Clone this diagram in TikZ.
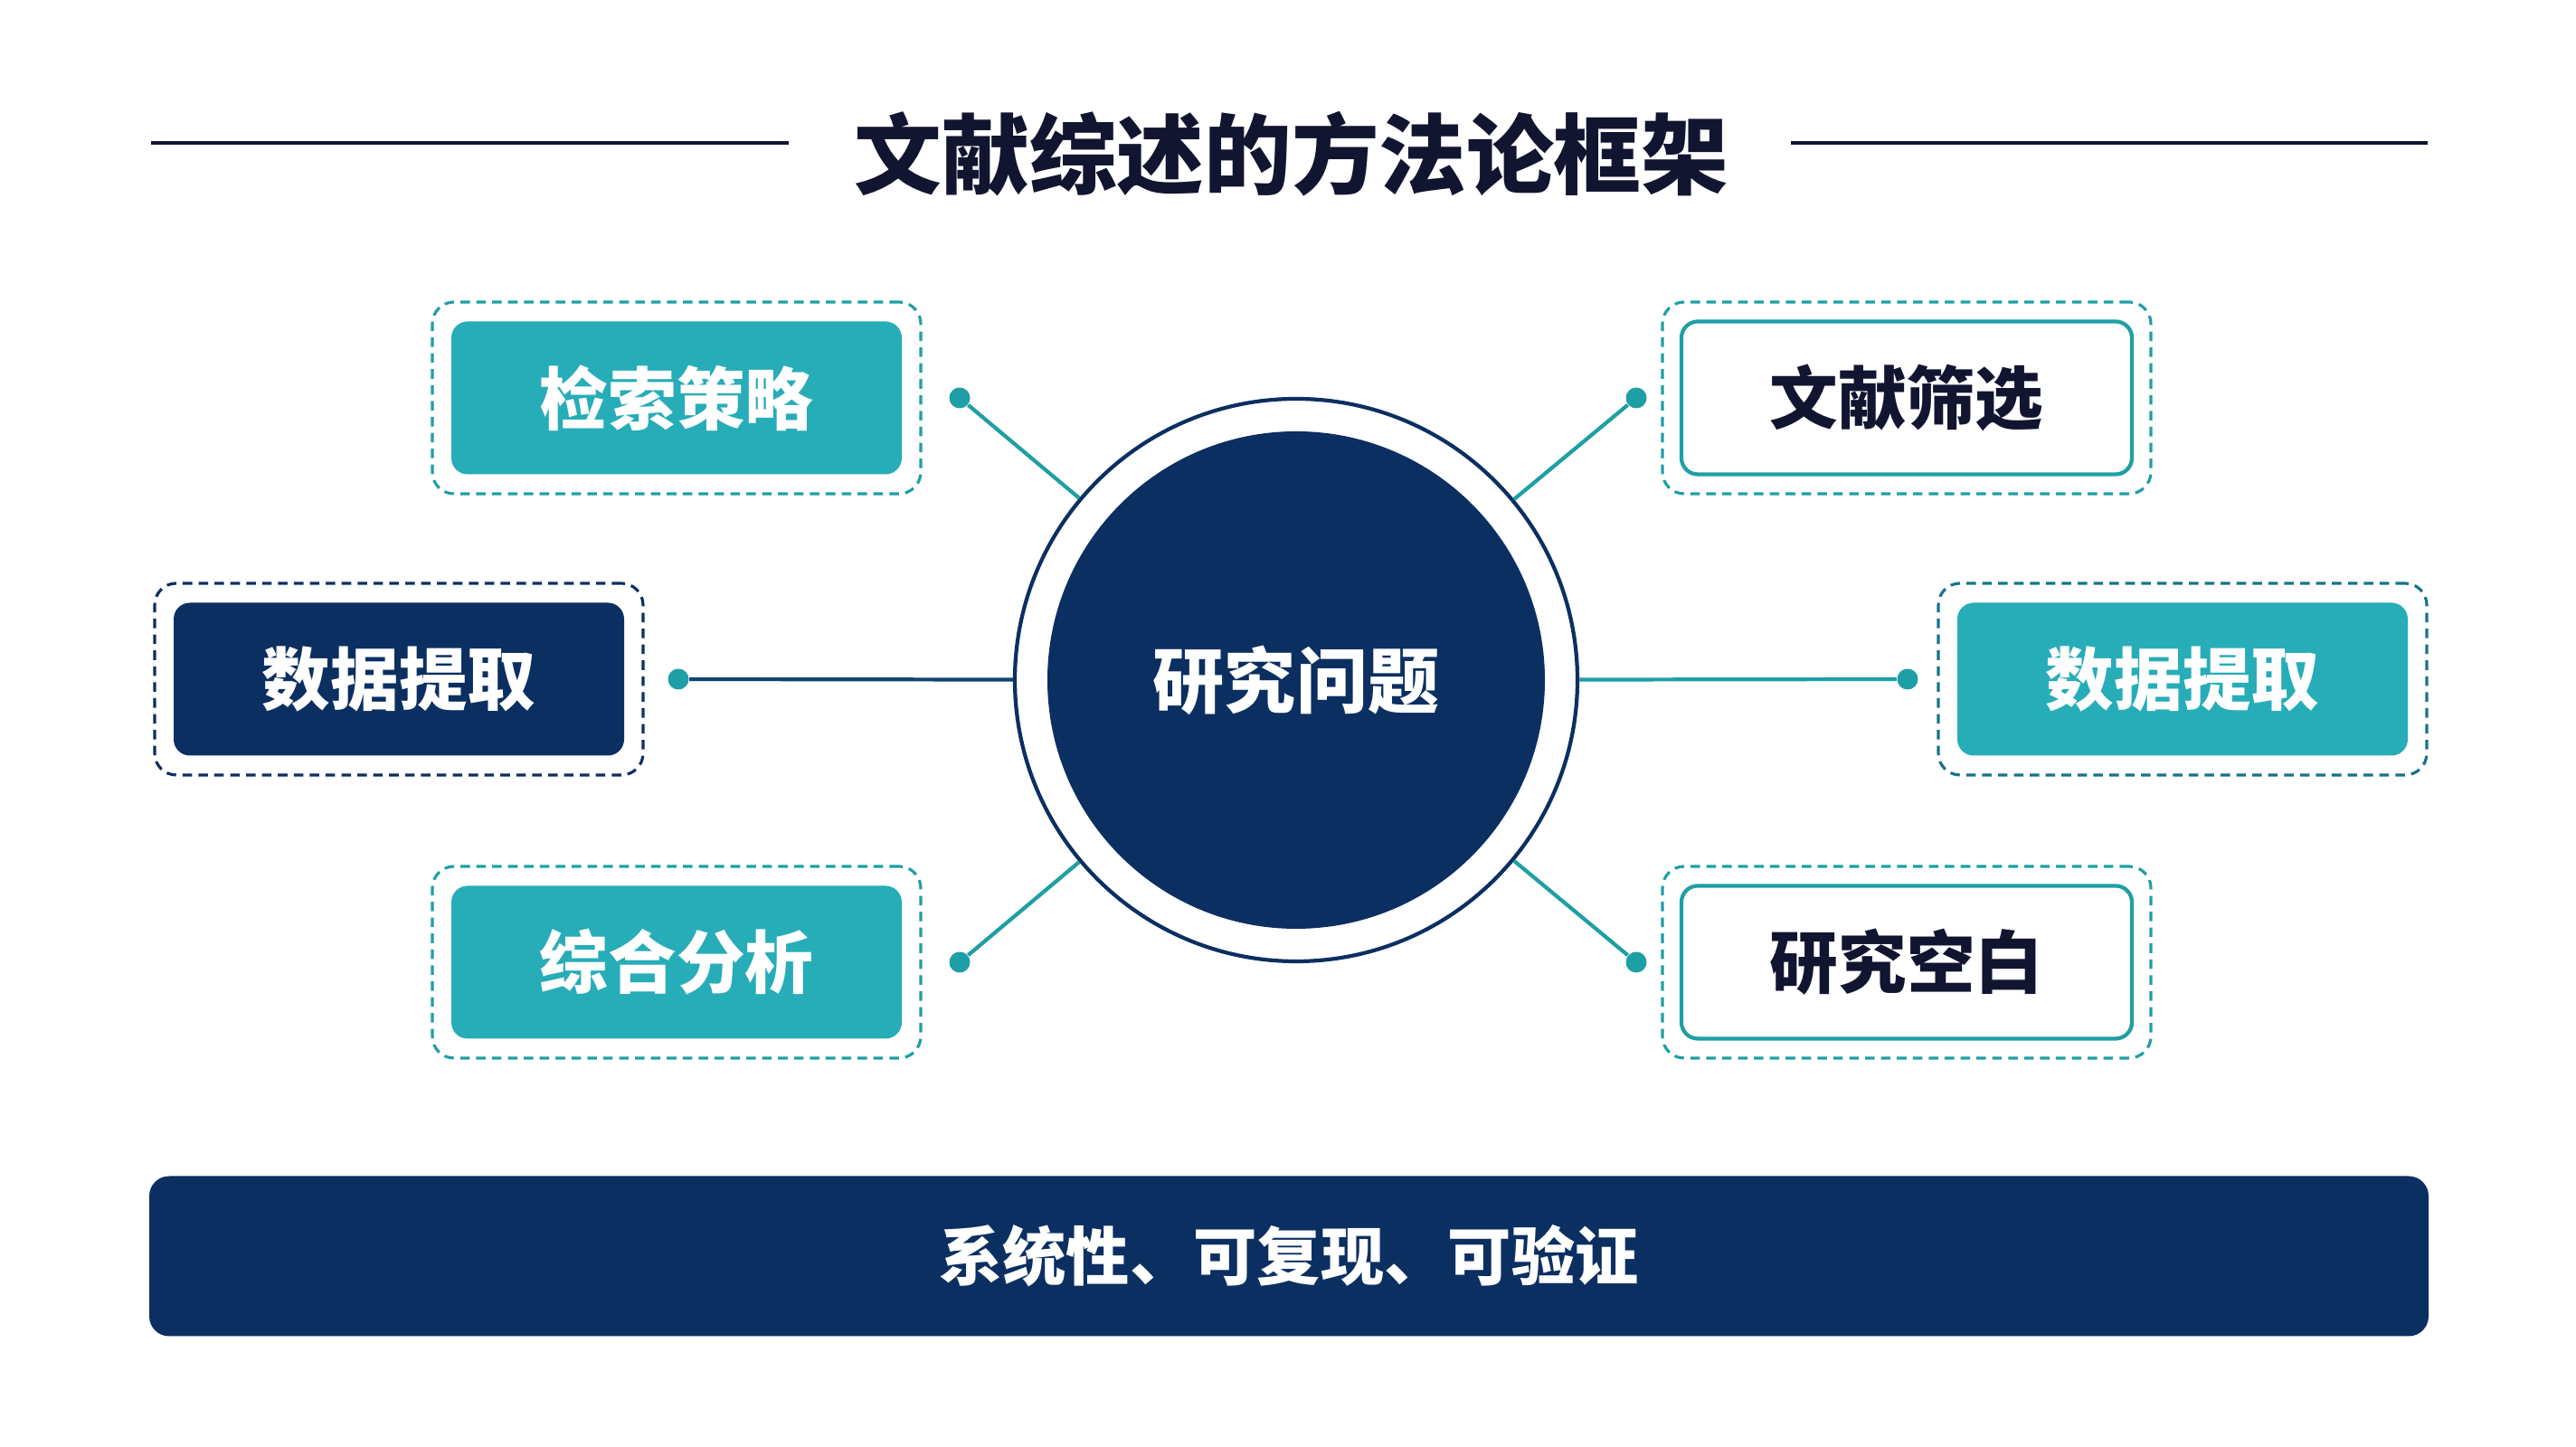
\documentclass[tikz,border=0pt]{standalone}
\usepackage{fontspec}
\usepackage{tikz}
\newfontfamily\cjk{Noto Sans CJK SC}

\definecolor{navy}{HTML}{0C2F62}
\definecolor{teal1}{HTML}{27ADB8}
\definecolor{tealline}{HTML}{1E9FA6}
\definecolor{ink}{HTML}{121530}

\begin{document}
\begin{tikzpicture}[
	outerbox/.style = {draw, dashed, dash pattern = on 3pt off 2pt, line width = 0.9pt, rounded corners = 0.24cm, minimum width = 5.4cm, minimum height = 2.12cm},
	tealbox/.style = {fill = teal1, rounded corners = 0.18cm, minimum width = 4.98cm, minimum height = 1.69cm, text = white, font = \cjk\bfseries\fontsize{21.5}{25}\selectfont},
	navybox/.style = {tealbox, fill = navy},
	whitebox/.style = {tealbox, fill = white, draw = tealline, line width = 1.2pt, text = ink},
	dot/.style = {circle, fill = tealline, inner sep = 0pt, minimum size = 0.23cm},
	link/.style = {draw = tealline, line width = 1.2pt}
]

	\useasboundingbox[fill = white] (0,0) rectangle (28.48,16);

	% title
	\node[text = ink, font = \cjk\bfseries\fontsize{27.5}{32}\selectfont] (title) at (14.28,14.3) {文献综述的方法论框架};
	\draw[ink, line width = 1pt] (1.67,14.42) -- (8.72,14.42);
	\draw[ink, line width = 1pt] (19.8,14.42) -- (26.84,14.42);

	% centre
	\node[circle, draw = navy, line width = 1.2pt, minimum size = 6.22cm] (ring) at (14.33,8.48) {};
	\node[circle, fill = navy, minimum size = 5.5cm, text = white, font = \cjk\bfseries\fontsize{22.5}{26}\selectfont] (rq) at (14.33,8.48) {研究问题};

	% left side
	\node[outerbox, draw = tealline] (o1) at (7.48,11.6) {};
	\node[tealbox] (search) at (7.48,11.6) {检索策略};
	\node[outerbox, draw = navy] (o2) at (4.41,8.49) {};
	\node[navybox] (extractL) at (4.41,8.49) {数据提取};
	\node[outerbox, draw = tealline] (o3) at (7.48,5.36) {};
	\node[tealbox] (synth) at (7.48,5.36) {综合分析};

	% right side
	\node[outerbox, draw = tealline] (o4) at (21.08,11.6) {};
	\node[whitebox] (screen) at (21.08,11.6) {文献筛选};
	\node[outerbox, draw = tealline!60!navy] (o5) at (24.13,8.49) {};
	\node[tealbox] (extractR) at (24.13,8.49) {数据提取};
	\node[outerbox, draw = tealline] (o6) at (21.08,5.36) {};
	\node[whitebox] (gap) at (21.08,5.36) {研究空白};

	% dots and links
	\node[dot] (d1) at (10.61,11.6) {};
	\node[dot] (d2) at (7.5,8.49) {};
	\node[dot] (d3) at (10.61,5.36) {};
	\node[dot] (d4) at (18.09,11.6) {};
	\node[dot] (d5) at (21.09,8.49) {};
	\node[dot] (d6) at (18.09,5.36) {};
	\draw[link] (d1) -- (ring);
	\draw[link, draw = navy!80!tealline] (d2) -- (ring);
	\draw[link] (d3) -- (ring);
	\draw[link] (d4) -- (ring);
	\draw[link] (d5) -- (ring);
	\draw[link] (d6) -- (ring);

	% bottom bar
	\node[fill = navy, rounded corners = 0.22cm, minimum width = 25.2cm, minimum height = 1.77cm, text = white, font = \cjk\bfseries\fontsize{20}{24}\selectfont] (bar) at (14.25,2.11) {系统性、可复现、可验证};

\end{tikzpicture}
\end{document}
